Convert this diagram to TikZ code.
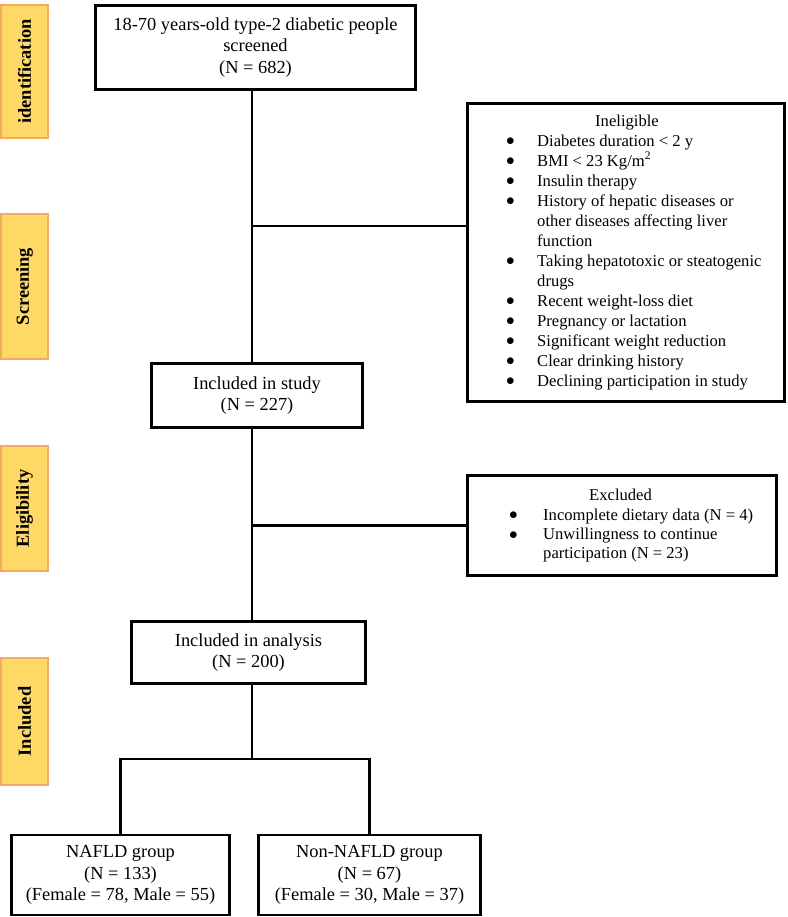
\documentclass[tikz,border=0pt]{standalone}
\usepackage{fontspec}
\setmainfont{Liberation Serif}
\usepackage{array}
\definecolor{phasefill}{HTML}{FFD966}
\definecolor{phaseedge}{RGB}{245,170,100}
\newcommand{\bigtxt}{\fontsize{18.4}{21.5}\selectfont}
\newcommand{\smalltxt}{\fontsize{16.6}{20}\selectfont}
\newcommand{\smallertxt}{\fontsize{16.6}{19.3}\selectfont}
\newcommand{\blt}{\raisebox{0.3pt}{$\bullet$}}
\begin{document}
\begin{tikzpicture}[x=1pt,y=-1pt,
  flowbox/.style={draw, line width=2.2pt, inner sep=0pt, align=center, font=\bigtxt},
  phasebox/.style={draw=phaseedge, fill=phasefill, line width=1.4pt, inner sep=0pt, minimum width=47pt},
  phasetext/.style={rotate=90, font=\bigtxt\bfseries, inner sep=0pt},
  listtext/.style={inner sep=0pt, anchor=north west, align=left},
  link/.style={line width=2.2pt}]
\useasboundingbox (0,0) rectangle (787,917);
% phase labels
\node[phasebox, minimum height=133pt] (pid) at (24.5,71.5) {};
\node[phasetext] (tid) at (pid.center) {identification};
\node[phasebox, minimum height=145pt] (pscr) at (24.5,286.5) {};
\node[phasetext] (tscr) at (pscr.center) {Screening};
\node[phasebox, minimum height=125pt] (pel) at (24.5,508.5) {};
\node[phasetext] (tel) at (pel.center) {Eligibility};
\node[phasebox, minimum height=127pt] (pin) at (24.5,721.5) {};
\node[phasetext] (tin) at (pin.center) {Included};
% flow boxes
\node[flowbox, minimum width=320pt, minimum height=84pt] (top) at (255.5,47.5)
  {18-70 years-old type-2 diabetic people\\screened\\(N = 682)};
\node[flowbox, minimum width=317pt, minimum height=298pt] (inel) at (626,252.5) {};
\node[listtext, font=\smalltxt] (inelt) at (506,112) {%
\begin{tabular}{@{}p{31pt}@{}l@{}}
\multicolumn{2}{@{}l@{}}{\hspace{89pt}Ineligible}\\
\blt & Diabetes duration < 2 y\\
\blt & BMI < 23 Kg/m\textsuperscript{2}\\
\blt & Insulin therapy\\
\blt & History of hepatic diseases or\\
 & other diseases affecting liver\\
 & function\\
\blt & Taking hepatotoxic or steatogenic\\
 & drugs\\
\blt & Recent weight-loss diet\\
\blt & Pregnancy or lactation\\
\blt & Significant weight reduction\\
\blt & Clear drinking history\\
\blt & Declining participation in study
\end{tabular}};
\node[flowbox, minimum width=211pt, minimum height=64pt] (study) at (257,395.5)
  {Included in study\\(N = 227)};
\node[flowbox, minimum width=309pt, minimum height=100pt] (excl) at (622,525.5) {};
\node[listtext, font=\smallertxt] (exclt) at (509,487) {%
\begin{tabular}{@{}p{34pt}@{}l@{}}
\multicolumn{2}{@{}l@{}}{\hspace{80pt}Excluded}\\
\blt & Incomplete dietary data (N = 4)\\
\blt & Unwillingness to continue\\
 & participation (N = 23)
\end{tabular}};
\node[flowbox, minimum width=234pt, minimum height=62pt] (anal) at (248.5,652.5)
  {Included in analysis\\(N = 200)};
\node[flowbox, minimum width=218pt, minimum height=80pt] (nafld) at (120.5,875)
  {NAFLD group\\(N = 133)\\(Female = 78, Male = 55)};
\node[flowbox, minimum width=222pt, minimum height=80pt] (non) at (369.5,875)
  {Non-NAFLD group\\(N = 67)\\(Female = 30, Male = 37)};
% connectors
\coordinate (spine) at (252,0);
\coordinate (j1) at (252,226);
\coordinate (j2) at (252,525.5);
\coordinate (j3) at (252,759);
\draw[link] (top.south -| spine) -- (study.north -| spine);
\draw[link] (j1) -- (j1 -| inel.west);
\draw[link] (study.south -| spine) -- (anal.north -| spine);
\draw[link] (j2) -- (excl.west);
\draw[link] (anal.south -| spine) -- (j3);
\draw[link] (nafld.north) |- (j3) -| (non.north);
\end{tikzpicture}
\end{document}
